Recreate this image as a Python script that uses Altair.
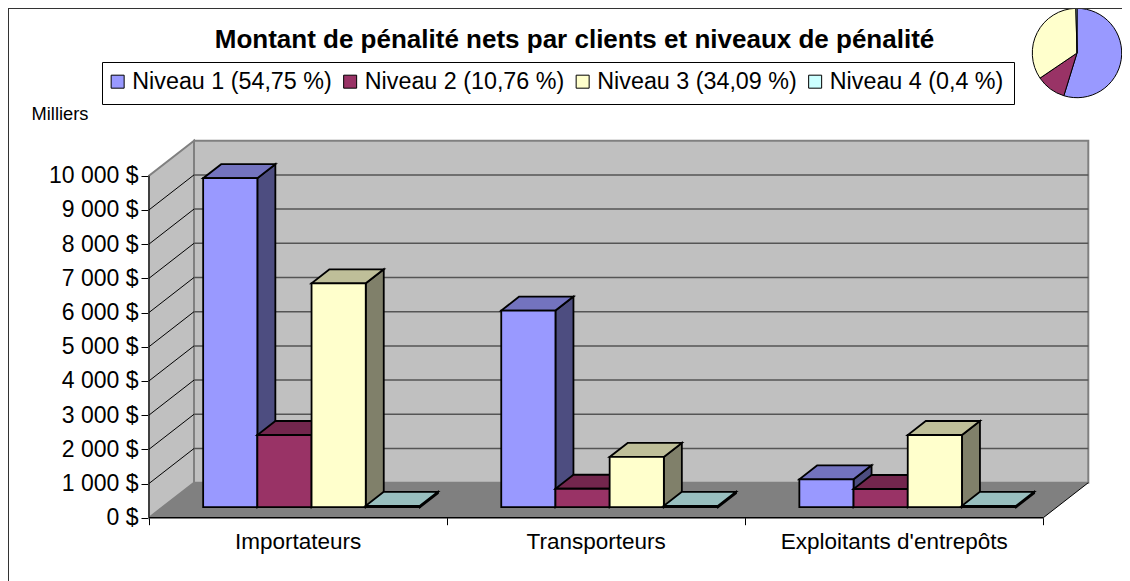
import altair as alt
import pandas as pd

categories = ["Importateurs", "Transporteurs", "Exploitants d'entrepôts"]
niveau_1 = [9620, 5750, 816]
niveau_2 = [2111, 540, 532]
niveau_3 = [6547, 1470, 2111]
niveau_4 = [40, 40, 40]
series = [niveau_1, niveau_2, niveau_3, niveau_4]
labels = ["Niveau 1 (54,75 %)", "Niveau 2 (10,76 %)", "Niveau 3 (34,09 %)", "Niveau 4 (0,4 %)"]
shares = [54.75, 10.76, 34.09, 0.4]
front_colors = ["#9999FF", "#993366", "#FFFFCC", "#CCFFFF"]
top_colors = ["#7373BF", "#73264D", "#BFBF99", "#99BFBF"]
side_colors = ["#4D4D80", "#4D1A33", "#80806A", "#668080"]
y_ticks = list(range(0, 11000, 1000))
FONT = "Liberation Sans"

W, H = 1114, 573
# projection: pixels per axis unit
PX_CAT = 298.1
PX_VAL = 0.0342
X0, Y0 = 149 - 8, 517.7 - 8
DX, DY = 45 / PX_CAT, 35 / PX_VAL       # depth of the floor, in axis units
BW = 1 / 5.5
BDX, BDY = DX * 0.4, DY * 0.4           # depth of a bar
SX, SY = DX * 0.3, DY * 0.3             # bar plane offset

xs = alt.Scale(domain=[-X0 / PX_CAT, (W - X0) / PX_CAT], range=[0, W], nice=False, zero=False)
ys = alt.Scale(domain=[-(H - Y0) / PX_VAL, Y0 / PX_VAL], range=[H, 0], nice=False, zero=False)
cs = alt.Scale(domain=labels, range=front_colors)
x_axis = alt.Axis(values=[0, 1, 2, 3], labels=False, domain=False, grid=False, title=None,
                  tickColor="#000000", tickSize=7, offset=-(H - Y0))
y_axis = alt.Axis(
    values=y_ticks, domain=False, grid=False, offset=-X0, tickColor="#000000", tickSize=8, labelPadding=3,
    labelExpr="replace(format(datum.value, ','), ',', ' ') + ' $'",
    labelFont=FONT, labelFontSize=23, labelColor="#000000",
    title="Milliers", titleAngle=0, titleFont=FONT, titleFontSize=18.3, titleFontWeight="normal",
    titleColor="#000000", titleAlign="center", titleBaseline="middle", titleX=59.5 - 149, titleY=114 - 8)


def X(f="x", **k):
    return alt.X(f + ":Q", scale=xs, axis=x_axis, **k)


def Y(f="y", **k):
    return alt.Y(f + ":Q", scale=ys, axis=y_axis, **k)


layers = []

# walls and floor
wall_left = pd.DataFrame({"x": [0, DX], "y": [0, DY], "y2": [10000, 10000 + DY]})
layers.append(alt.Chart(wall_left).mark_area(fill="#C0C0C0", stroke="#808080", strokeWidth=2).encode(
    X(), Y(stack=None), y2="y2:Q"))
wall_back = pd.DataFrame({"x": [DX], "x2": [3 + DX], "y": [DY], "y2": [10000 + DY]})
layers.append(alt.Chart(wall_back).mark_rect(fill="#C0C0C0", stroke="#808080", strokeWidth=2).encode(
    X(), x2="x2:Q", y=Y(), y2="y2:Q"))
floor = pd.DataFrame({"y": [0, DY], "x": [0, DX], "x2": [3, 3 + DX]})
layers.append(alt.Chart(floor).mark_area(fill="#808080", orient="horizontal").encode(
    X(stack=None), x2="x2:Q", y=Y()))

# grid
grid_back = pd.DataFrame({"x": [DX] * len(y_ticks[1:-1]), "x2": [3 + DX] * len(y_ticks[1:-1]),
                          "y": [v + DY for v in y_ticks[1:-1]]})
layers.append(alt.Chart(grid_back).mark_rule(color="#555555", strokeWidth=1.5).encode(
    X(), x2="x2:Q", y=Y()))
grid_left = pd.DataFrame(
    [{"x": 0, "y": v, "k": v} for v in y_ticks[1:-1]] + [{"x": DX, "y": v + DY, "k": v} for v in y_ticks[1:-1]])
layers.append(alt.Chart(grid_left).mark_line(color="#000000", strokeWidth=1).encode(
    X(), Y(), detail="k:N"))
edge_right = pd.DataFrame({"x": [3, 3 + DX], "y": [0, DY]})
layers.append(alt.Chart(edge_right).mark_line(color="#000000", strokeWidth=1).encode(X(), Y()))
edge_bottom = pd.DataFrame({"x": [0], "x2": [3], "y": [0]})
layers.append(alt.Chart(edge_bottom).mark_rule(color="#000000", strokeWidth=1.5).encode(
    X(), x2="x2:Q", y=Y()))
edge_axis = pd.DataFrame({"x": [0], "y": [0], "y2": [10000]})
layers.append(alt.Chart(edge_axis).mark_rule(color="#000000", strokeWidth=1).encode(X(), y=Y(), y2="y2:Q"))

# bars, painted from left to right
STROKE = dict(stroke="#000000", strokeWidth=1.8)
for k, values in enumerate(series):
    side, top, front = [], [], []
    for c, v in enumerate(values):
        l = c + 0.75 * BW + k * BW + SX
        r = l + BW
        b, t = SY, SY + v
        side += [{"x": r, "y": b, "y2": t, "c": c}, {"x": r + BDX, "y": b + BDY, "y2": t + BDY, "c": c}]
        top += [{"y": t, "x": l, "x2": r, "c": c}, {"y": t + BDY, "x": l + BDX, "x2": r + BDX, "c": c}]
        front.append({"x": l, "x2": r, "y": b, "y2": t, "niveau": labels[k]})
    layers.append(alt.Chart(pd.DataFrame(side)).mark_area(fill=side_colors[k], **STROKE).encode(
        X(), Y(stack=None), y2="y2:Q", detail="c:N"))
    layers.append(alt.Chart(pd.DataFrame(top)).mark_area(fill=top_colors[k], orient="horizontal", **STROKE).encode(
        X(stack=None), x2="x2:Q", y=Y(), detail="c:N"))
    layers.append(alt.Chart(pd.DataFrame(front)).mark_rect(**STROKE).encode(
        X(), x2="x2:Q", y=Y(), y2="y2:Q",
        color=alt.Color("niveau:N", scale=cs, legend=alt.Legend(
            orient="none", legendX=98, legendY=62, direction="horizontal", columns=4, title=None,
            padding=0, symbolType="square", symbolSize=169,
            symbolStrokeColor="#000000", symbolStrokeWidth=1, labelFont=FONT, labelFontSize=23.3,
            labelColor="#000000", columnPadding=6.5, labelOffset=3, labelLimit=400, gridAlign="each"))))

# category labels
cat_df = pd.DataFrame({"x": [i + 0.5 for i in range(3)], "y": [0] * 3, "name": categories})
layers.append(alt.Chart(cat_df).mark_text(font=FONT, fontSize=22.5, color="#000000", baseline="middle", yOffset=24).encode(
    X(), Y(), text="name:N"))

# legend box
layers.append(alt.Chart(pd.DataFrame({"a": [0]})).mark_rect(fill="#FFFFFF", stroke="#000000", strokeWidth=1).encode(
    x=alt.value(94.5), x2=alt.value(1006.5), y=alt.value(54.5), y2=alt.value(96.5)))

# pie
pie_df = pd.DataFrame({"niveau": labels, "share": shares, "i": range(4)})
layers.append(alt.Chart(pie_df).mark_arc(outerRadius=44.7, stroke="#000000", strokeWidth=1).encode(
    theta=alt.Theta("share:Q", stack=True),
    color=alt.Color("niveau:N", scale=cs),
    order=alt.Order("i:Q"),
    x=alt.value(1077 - 8), y=alt.value(53 - 8)))

# frame
frame = pd.DataFrame({"x": [-X0 / PX_CAT], "x2": [(W - X0) / PX_CAT], "y": [Y0 / PX_VAL], "y2": [-(H - Y0) / PX_VAL]})
layers.append(alt.Chart(frame).mark_rule(color="#333333", strokeWidth=2).encode(X(), x2="x2:Q", y=Y()))
layers.append(alt.Chart(frame).mark_rule(color="#333333", strokeWidth=2).encode(X(), y=Y(), y2="y2:Q"))

chart = alt.layer(*layers).properties(
    width=W, height=H, padding=0,
    autosize=alt.AutoSizeParams(type="none"),
    title=alt.TitleParams("Montant de pénalité nets par clients et niveaux de pénalité", font=FONT, fontSize=26,
                          fontWeight="bold", color="#000000", anchor="middle", frame="group", dx=9.5, dy=47, offset=0),
).configure_view(stroke=None).configure(background="#FFFFFF")

chart.save("out.html", embed_options={"renderer": "svg", "actions": False})
